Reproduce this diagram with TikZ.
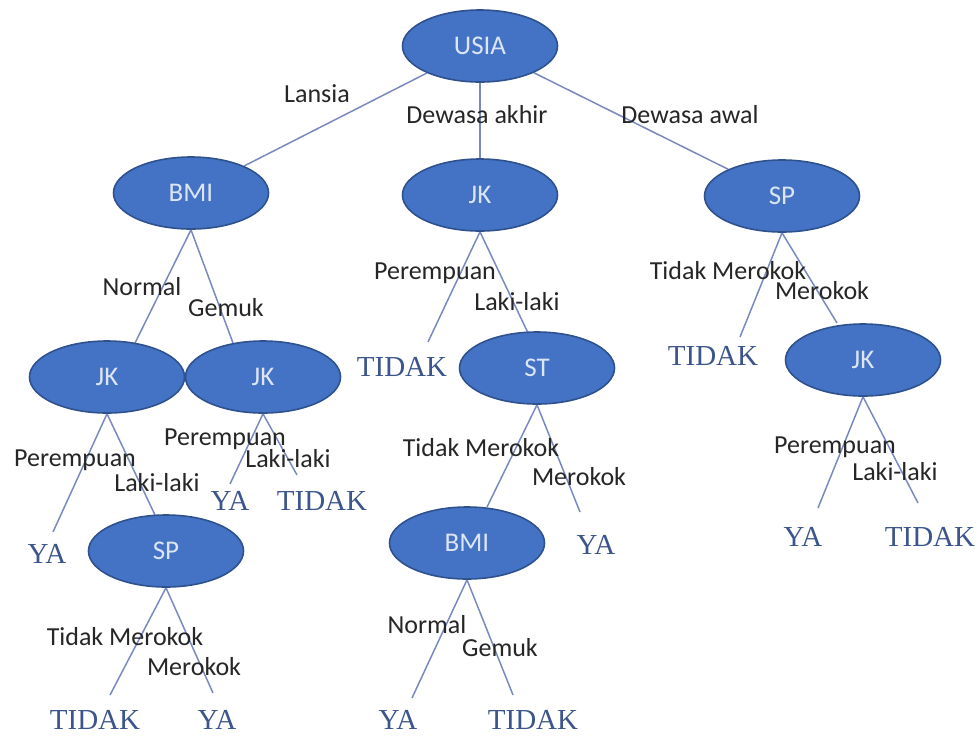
\documentclass[tikz,border=0pt]{standalone}
\usepackage{fontspec}
\setmainfont{Carlito}
\newfontfamily\leaffont{Liberation Serif}
\usetikzlibrary{shapes.geometric,calc,backgrounds}
\definecolor{nodeblue}{HTML}{4472C4}
\definecolor{nodeline}{HTML}{2F528F}
\definecolor{nodetext}{HTML}{DCE5F4}
\definecolor{edgeblue}{HTML}{7A8AC0}
\definecolor{leafblue}{HTML}{3C558C}

\begin{document}
\begin{tikzpicture}[x=0.5pt,y=-0.5pt,
  dec/.style={ellipse,draw=nodeline,line width=0.8pt,fill=nodeblue,text=nodetext,
    minimum width=77.5pt,minimum height=36pt,inner sep=0pt,font=\fontsize{13.5}{16}\selectfont},
  leaf/.style={text=leafblue,inner sep=1pt,font=\leaffont\fontsize{14.5}{17}\selectfont},
  lab/.style={text=black!85,inner sep=0pt,font=\fontsize{13}{15}\selectfont},
  edge/.style={draw=edgeblue,line width=0.75pt}]
  \useasboundingbox (0,0) rectangle (980,735);
  % decision nodes
  \foreach \n/\x/\y/\t in {usia/480/46/USIA,bmi1/191/193/BMI,jk1/480/195/JK,sp1/782/196/SP,
      jk2/107/377/JK,jk3/263/377/JK,st/537/368/ST,jk4/863/360/JK,sp2/166/551/SP,bmi2/467/543/BMI}
    \node[dec] (\n) at (\x,\y) {\t};
  % leaves
  \foreach \n/\x/\y/\t in {t1/402/367/TIDAK,t2/713/356/TIDAK,y1/47/554/YA,y2/230/501/YA,
      t3/322/501/TIDAK,t4/95/720/TIDAK,y3/217/720/YA,y4/596/545/YA,y5/398/720/YA,
      t5/533/720/TIDAK,y6/803/537/YA,t6/930/537/TIDAK}
    \node[leaf] (\n) at (\x,\y) {\t};
  % branch labels
  \foreach \n/\x/\y/\t in {l1/317/94/Lansia,l2/477/115/Dewasa akhir,l3/690/115/Dewasa awal,
      l4/142/287/Normal,l5/226/308/Gemuk,l6/435/273/Perempuan,l7/517/302/Laki-laki,
      l8/728/271/Tidak Merokok,l9/822/291/Merokok,l10/75/460/Perempuan,l11/157/483/Laki-laki,
      l12/225/439/Perempuan,l13/288/459/Laki-laki,l14/125/637/Tidak Merokok,l15/194/667/Merokok,
      l16/481/448/Tidak Merokok,l17/579/477/Merokok,l18/427/625/Normal,l19/500/648/Gemuk,
      l20/835/447/Perempuan,l21/895/472/Laki-laki}
    \node[lab] (\n) at (\x,\y) {\t};
  \begin{scope}[on background layer]
    \fill[white] (0,0) rectangle (980,735);
    \foreach \b in {bmi1,jk1,sp1}
      \draw[edge] (usia) -- (\b);
    \foreach \a/\b/\dx/\dy in {bmi1/jk2/28/-34,bmi1/jk3/-30/-34,jk1/t1/26/-25,jk1/st/-9/-35,
        sp1/t2/27/-19,sp1/jk4/-26/-37,jk2/y1/6/-22,jk2/sp2/-11/-36,jk3/y2/0/-17,jk3/t3/-25/-26,
        sp2/t4/15/-25,sp2/y3/-4/-27,st/bmi2/20/-36,st/y4/-16/-33,bmi2/y5/14/-22,bmi2/t5/-20/-25,
        jk4/y6/15/-29,jk4/t6/-12/-34}
      \draw[edge] (\a.south) -- ($(\b)+(\dx,\dy)$);
  \end{scope}
\end{tikzpicture}
\end{document}
